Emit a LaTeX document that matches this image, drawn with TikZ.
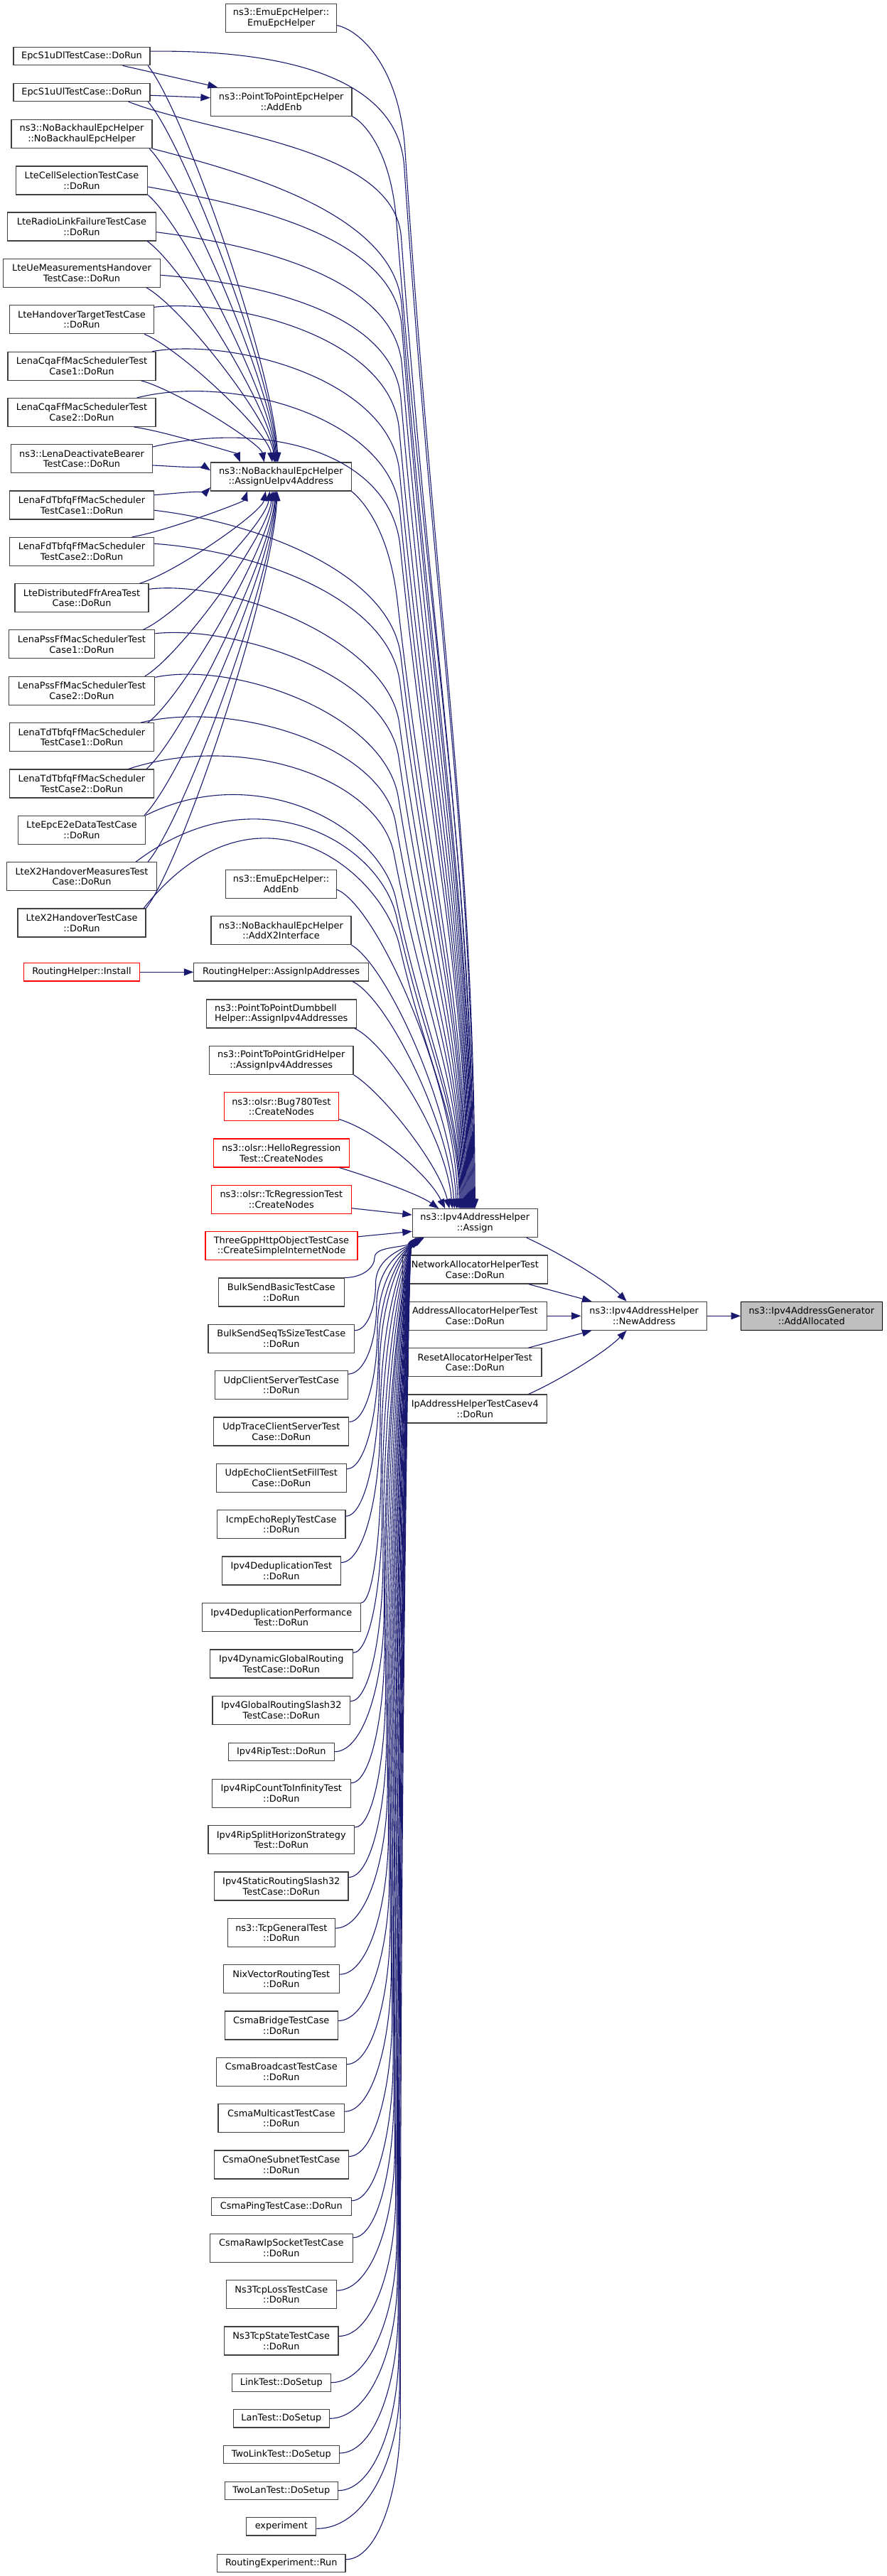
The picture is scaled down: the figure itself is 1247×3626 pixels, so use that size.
\documentclass[tikz,border=0pt]{standalone}
\usepackage{fontspec}
\setmainfont{DejaVu Sans}
\usetikzlibrary{arrows.meta,calc}
\definecolor{edgec}{HTML}{191970}
\definecolor{bord}{HTML}{404040}
\definecolor{selfill}{HTML}{BFBFBF}
\definecolor{redb}{HTML}{FF0000}
\newcommand\nfont{\fontsize{12.9bp}{14.7bp}\selectfont}
\tikzset{
  nbox/.style={draw=bord, line width=1.1bp, fill=white, minimum height=40bp, inner sep=0pt, align=center, font=\nfont},
  sbox/.style={nbox, minimum height=25.3bp},
  rbox/.style={draw=redb},
  calls/.style={draw=edgec, line width=1.1bp, -{Triangle[length=13.5bp,width=10bp]}},
}
% two-line node: [opts]{name}{x,y}{width}{text}
\newcommand\nd[5][]{\node[nbox,minimum width=#4bp,#1] (#2) at (#3) {#5};}
\newcommand\sn[5][]{\node[sbox,minimum width=#4bp,#1] (#2) at (#3) {#5};}
% knee edge: start, end, first control (x,y), knee (x,y), radius
\newcommand\kedge[5]{%
  \draw[calls] let \p1=(#1), \p2=(#2), \p3=(#4),
    \n1={100*veclen((\x2-\x3)/100,(\y2-\y3)/100)},
    \n2={(#5)/\n1},
    \n3={((#5)+0.45*(\n1-(#5)))/\n1},
    \n4={0.35*(\n1-(#5))}
  in (\p1) .. controls (#3) and (\p3) .. ({\x3+\n2*(\x2-\x3)},{\y3+\n2*(\y2-\y3)})
     .. controls ({\x3+\n3*(\x2-\x3)},{\y3+\n3*(\y2-\y3)}) and ({\x2-1.5pt},{\y2+\n4*1pt}) .. (\p2);%
}
% edges from the lower column up to the bottom left of Assign
\newcommand\lowedge[3]{%
  \draw[calls] let \p1=(#1), \p2=(#2), \p3=(#3,0),
    \n1={min(0.5*(\y2-\y1),200)},
    \n2={\y1+\n1},
    \n3={\n2+0.6*(\y2-\n2)}
  in (\p1) .. controls ({\x1+0.6*(\x3-\x1)},\y1) and (\x3,{\y1+0.5*\n1*1pt}) .. (\x3,{\n2*1pt})
     .. controls (\x3,{\n3*1pt}) and ({\x2-0.4*(\x2-\x3)},{\y2-15pt}) .. (\p2);%
}
% simple curved edge
\newcommand\uedge[2]{%
  \draw[calls] let \p1=(#1), \p2=(#2) in (\p1) .. controls ({\x1+0.29*(\x2-\x1)},{\y1+0.12*(\y2-\y1)}) and ({\x2-0.03*(\x2-\x1)},{\y2-0.23*(\y2-\y1)}) .. (\p2);%
}
\begin{document}
\begin{tikzpicture}[x=1bp,y=1bp]
\useasboundingbox (0,0) rectangle (1247,-3626);
\fill[white] (0,0) rectangle (1247,-3626);
% ---------- left column ----------
\sn{s1dl}{115,-79.2}{192}{EpcS1uDlTestCase::DoRun}
\sn{s1ul}{115,-129.9}{192}{EpcS1uUlTestCase::DoRun}
\nd{nbCtor}{115,-188.7}{198}{ns3::NoBackhaulEpcHelper\\::NoBackhaulEpcHelper}
\nd{cellSel}{115,-254}{185.5}{LteCellSelectionTestCase\\::DoRun}
\nd{rlf}{115,-319}{208.5}{LteRadioLinkFailureTestCase\\::DoRun}
\nd{ueMeas}{115,-384.3}{220.7}{LteUeMeasurementsHandover\\TestCase::DoRun}
\nd{hoTarget}{115,-449.8}{203}{LteHandoverTargetTestCase\\::DoRun}
\nd{cqa1}{115,-515.2}{208}{LenaCqaFfMacSchedulerTest\\Case1::DoRun}
\nd{cqa2}{115,-580.5}{208}{LenaCqaFfMacSchedulerTest\\Case2::DoRun}
\nd{deact}{115,-645.8}{198.5}{ns3::LenaDeactivateBearer\\TestCase::DoRun}
\nd{fd1}{115,-711}{203}{LenaFdTbfqFfMacScheduler\\TestCase1::DoRun}
\nd{fd2}{115,-776.3}{203}{LenaFdTbfqFfMacScheduler\\TestCase2::DoRun}
\nd{ffr}{115,-841.7}{188}{LteDistributedFfrAreaTest\\Case::DoRun}
\nd{pss1}{115,-906.9}{205.7}{LenaPssFfMacSchedulerTest\\Case1::DoRun}
\nd{pss2}{115,-972.3}{205.7}{LenaPssFfMacSchedulerTest\\Case2::DoRun}
\nd{td1}{115,-1037.7}{203}{LenaTdTbfqFfMacScheduler\\TestCase1::DoRun}
\nd{td2}{115,-1103}{203}{LenaTdTbfqFfMacScheduler\\TestCase2::DoRun}
\nd{e2e}{115,-1168.3}{178.7}{LteEpcE2eDataTestCase\\::DoRun}
\nd{x2meas}{115,-1233.7}{210.3}{LteX2HandoverMeasuresTest\\Case::DoRun}
\nd{x2ho}{115,-1299}{180}{LteX2HandoverTestCase\\::DoRun}
\sn[rbox]{rhInstall}{115,-1368.3}{163}{RoutingHelper::Install}
% ---------- middle column ----------
\nd{emuHelper}{395.6,-25.7}{156}{ns3::EmuEpcHelper::\\EmuEpcHelper}
\nd{p2pAddEnb}{395.7,-143.2}{198.5}{ns3::PointToPointEpcHelper\\::AddEnb}
\nd{uev4}{395.3,-671}{197.5}{ns3::NoBackhaulEpcHelper\\::AssignUeIpv4Address}
\nd{emuAddEnb}{395.6,-1244.3}{156}{ns3::EmuEpcHelper::\\AddEnb}
\nd{x2if}{395.5,-1309.7}{197}{ns3::NoBackhaulEpcHelper\\::AddX2Interface}
\sn{rhAssign}{395.6,-1368.3}{245.6}{RoutingHelper::AssignIpAddresses}
\nd[align=left]{dumbbell}{395.8,-1427}{211.2}{ns3::PointToPointDumbbell\\Helper::AssignIpv4Addresses}
\nd{grid}{395.8,-1492.3}{202.4}{ns3::PointToPointGridHelper\\::AssignIpv4Addresses}
\nd[rbox]{bug780}{395.8,-1557.7}{160.5}{ns3::olsr::Bug780Test\\::CreateNodes}
\nd[rbox]{hello}{395.8,-1623}{190.5}{ns3::olsr::HelloRegression\\Test::CreateNodes}
\nd[rbox]{tcreg}{395.8,-1688.3}{197}{ns3::olsr::TcRegressionTest\\::CreateNodes}
\nd[rbox]{threegpp}{396,-1753.8}{214}{ThreeGppHttpObjectTestCase\\::CreateSimpleInternetNode}
\nd{bulkBasic}{395.8,-1819}{176.6}{BulkSendBasicTestCase\\::DoRun}
\nd{bulkSeq}{395.8,-1884.3}{205.7}{BulkSendSeqTsSizeTestCase\\::DoRun}
\nd{udpCS}{395.8,-1949.7}{187}{UdpClientServerTestCase\\::DoRun}
\nd{udpTrace}{395.8,-2015}{190}{UdpTraceClientServerTest\\Case::DoRun}
\nd{udpEcho}{395.8,-2080.3}{183}{UdpEchoClientSetFillTest\\Case::DoRun}
\nd{icmp}{395.8,-2145.7}{180.3}{IcmpEchoReplyTestCase\\::DoRun}
\nd{dedup}{395.8,-2211}{167}{Ipv4DeduplicationTest\\::DoRun}
\nd{dedupPerf}{395.8,-2276.7}{223}{Ipv4DeduplicationPerformance\\Test::DoRun}
\nd{dynGlobal}{395.8,-2342}{200.7}{Ipv4DynamicGlobalRouting\\TestCase::DoRun}
\nd{global32}{395.8,-2407.3}{193.7}{Ipv4GlobalRoutingSlash32\\TestCase::DoRun}
\sn{rip}{395.8,-2465.7}{148.7}{Ipv4RipTest::DoRun}
\nd{ripCount}{395.8,-2524.3}{195}{Ipv4RipCountToInfinityTest\\::DoRun}
\nd{ripSplit}{395.8,-2589.7}{205.7}{Ipv4RipSplitHorizonStrategy\\Test::DoRun}
\nd{static32}{395.8,-2655}{188.3}{Ipv4StaticRoutingSlash32\\TestCase::DoRun}
\nd{tcpGen}{395.8,-2720.7}{151}{ns3::TcpGeneralTest\\::DoRun}
\nd{nix}{395.8,-2785.7}{163}{NixVectorRoutingTest\\::DoRun}
\nd{csmaBridge}{395.8,-2851}{159}{CsmaBridgeTestCase\\::DoRun}
\nd{csmaBcast}{395.8,-2916.3}{183}{CsmaBroadcastTestCase\\::DoRun}
\nd{csmaMcast}{395.8,-2981.7}{177.7}{CsmaMulticastTestCase\\::DoRun}
\nd{csmaOne}{395.8,-3047}{188.7}{CsmaOneSubnetTestCase\\::DoRun}
\sn{csmaPing}{395.8,-3105.7}{196.6}{CsmaPingTestCase::DoRun}
\nd{csmaRaw}{395.8,-3164.3}{200.7}{CsmaRawIpSocketTestCase\\::DoRun}
\nd{tcpLoss}{395.8,-3229.7}{154.7}{Ns3TcpLossTestCase\\::DoRun}
\nd{tcpState}{395.8,-3295}{160.3}{Ns3TcpStateTestCase\\::DoRun}
\sn{linkTest}{395.8,-3353.7}{139}{LinkTest::DoSetup}
\sn{lanTest}{395.8,-3404.3}{134.7}{LanTest::DoSetup}
\sn{twoLink}{395.8,-3455}{163}{TwoLinkTest::DoSetup}
\sn{twoLan}{395.8,-3505.7}{159}{TwoLanTest::DoSetup}
\sn{experiment}{395.8,-3556.3}{98}{experiment}
\sn{routingExp}{395.8,-3607.7}{180.3}{RoutingExperiment::Run}
% ---------- right part ----------
\nd{assign}{668.3,-1721.7}{176}{ns3::Ipv4AddressHelper\\::Assign}
\nd{netAlloc}{668.3,-1787}{204}{NetworkAllocatorHelperTest\\Case::DoRun}
\nd{addrAlloc}{668.3,-1852.3}{202}{AddressAllocatorHelperTest\\Case::DoRun}
\nd{resetAlloc}{668.3,-1917.7}{187.3}{ResetAllocatorHelperTest\\Case::DoRun}
\nd{ipHelperV4}{668.3,-1983}{202}{IpAddressHelperTestCasev4\\::DoRun}
\nd{newAddr}{906.2,-1852.3}{176.3}{ns3::Ipv4AddressHelper\\::NewAddress}
\nd[fill=selfill,draw=black]{addAlloc}{1141.8,-1852.3}{198.5}{ns3::Ipv4AddressGenerator\\::AddAllocated}
% ---------- short edges ----------
\draw[calls] ([xshift=-39bp]s1dl.south east) -- ([xshift=10bp]p2pAddEnb.north west);
\draw[calls] ([yshift=-4.3bp]s1ul.east) -- ([yshift=5.5bp]p2pAddEnb.west);
\draw[calls] (rhInstall.east) -- (rhAssign.west);
\draw[calls] ([xshift=-16bp]assign.south east) .. controls (780,-1760) and (850,-1800) .. ([xshift=-24.6bp]newAddr.north);
\draw[calls] ([xshift=-27.3bp]netAlloc.south east) -- ([xshift=15bp]newAddr.north west);
\draw[calls] (addrAlloc.east) -- (newAddr.west);
\draw[calls] ([xshift=-19bp]resetAlloc.north east) -- ([xshift=15bp]newAddr.south west);
\draw[calls] ([xshift=-26.4bp]ipHelperV4.north east) .. controls (783,-1945) and (850,-1905) .. ([xshift=-24.6bp]newAddr.south);
\draw[calls] (newAddr.east) -- (addAlloc.west);
% ---------- edges to AssignUeIpv4Address ----------
\uedge{[xshift=-3.4bp]s1dl.south east}{[xshift=-4.3bp]uev4.north}
\uedge{[xshift=-3.4bp]s1ul.south east}{[xshift=-5.3bp]uev4.north}
\uedge{[xshift=-4.4bp]nbCtor.south east}{[xshift=-6.3bp]uev4.north}
\uedge{cellSel.south east}{[xshift=-7.3bp]uev4.north}
\uedge{[xshift=-12.6bp]rlf.south east}{[xshift=-8.3bp]uev4.north}
\uedge{[xshift=-20bp]ueMeas.south east}{[xshift=-9.3bp]uev4.north}
\uedge{[xshift=-14bp]hoTarget.south east}{[xshift=-12.3bp]uev4.north}
\uedge{[xshift=-21bp]cqa1.south east}{[xshift=-23.6bp]uev4.north}
\uedge{[xshift=-31bp]cqa2.south east}{[xshift=-57.3bp]uev4.north}
\uedge{[yshift=-9.2bp]deact.east}{[yshift=8.7bp]uev4.west}
\uedge{[yshift=14.3bp]fd1.east}{[yshift=-15bp]uev4.west}
\uedge{[xshift=-31bp]fd2.north east}{[xshift=-47.3bp]uev4.south}
\uedge{[xshift=-13bp]ffr.north east}{[xshift=-21.6bp]uev4.south}
\uedge{[xshift=-17bp]pss1.north east}{[xshift=-15.7bp]uev4.south}
\uedge{[xshift=-14.4bp]pss2.north east}{[xshift=-12.3bp]uev4.south}
\uedge{[xshift=-9bp]td1.north east}{[xshift=-10.3bp]uev4.south}
\uedge{[xshift=-11bp]td2.north east}{[xshift=-8.3bp]uev4.south}
\uedge{[xshift=-2bp]e2e.north east}{[xshift=-7.3bp]uev4.south}
\uedge{[xshift=-12.6bp]x2meas.north east}{[xshift=-6.3bp]uev4.south}
\uedge{x2ho.north east}{[xshift=-5.3bp]uev4.south}
% ---------- long edges to Assign (top) ----------
\kedge{[yshift=-10bp]emuHelper.east}{assign.north}{505,-42}{562,-92}{120}
\kedge{[yshift=7bp]s1dl.east}{[xshift=-1bp]assign.north}{390,-70}{560,-105}{130}
\kedge{p2pAddEnb.south east}{[xshift=-2bp]assign.north}{512,-172}{550,-212}{100}
\kedge{[xshift=-31bp]s1ul.south east}{[xshift=-3bp]assign.north}{300,-190}{555,-205}{130}
\kedge{nbCtor.south east}{[xshift=-4bp]assign.north}{340,-242}{555,-300}{130}
\kedge{[yshift=-9bp]cellSel.east}{[xshift=-5bp]assign.north}{340,-287}{555,-330}{130}
\kedge{[yshift=-7.7bp]rlf.east}{[xshift=-6bp]assign.north}{340,-342}{555,-385}{130}
\kedge{[yshift=-3bp]ueMeas.east}{[xshift=-7bp]assign.north}{340,-396}{553,-432}{130}
\kedge{[yshift=17.5bp]hoTarget.east}{[xshift=-8bp]assign.north}{330,-420}{550,-475}{130}
\kedge{[xshift=-5.5bp]cqa1.north east}{[xshift=-9bp]assign.north}{330,-475}{550,-535}{130}
\kedge{[xshift=-27bp]cqa2.north east}{[xshift=-10bp]assign.north}{330,-525}{550,-590}{130}
\kedge{[yshift=16.8bp]deact.east}{[xshift=-11bp]assign.north}{380,-590}{550,-640}{130}
\kedge{uev4.south east}{[xshift=-12bp]assign.north}{512,-706}{548,-748}{100}
\kedge{[yshift=-7.3bp]fd1.east}{[xshift=-13bp]assign.north}{360,-735}{550,-805}{120}
\kedge{[yshift=11bp]fd2.east}{[xshift=-14bp]assign.north}{360,-775}{548,-842}{120}
\kedge{[yshift=12.4bp]ffr.east}{[xshift=-15bp]assign.north}{320,-815}{546,-900}{120}
\kedge{[yshift=15.2bp]pss1.east}{[xshift=-16bp]assign.north}{330,-880}{544,-948}{120}
\kedge{[yshift=19bp]pss2.east}{[xshift=-17bp]assign.north}{330,-930}{542,-1005}{120}
\kedge{[xshift=-19bp]td1.north east}{[xshift=-18bp]assign.north}{330,-985}{538,-1050}{110}
\kedge{[xshift=-36.5bp]td2.north east}{[xshift=-19bp]assign.north}{340,-1030}{534,-1095}{110}
\kedge{e2e.north east}{[xshift=-20bp]assign.north}{360,-1070}{535,-1160}{110}
\kedge{[xshift=-29.6bp]x2meas.north east}{[xshift=-21bp]assign.north}{360,-1085}{535,-1185}{110}
\kedge{[xshift=-3.4bp]x2ho.north east}{[xshift=-22bp]assign.north}{360,-1080}{538,-1225}{110}
% ---------- middle helpers to Assign ----------
\draw[calls] ([yshift=-8bp]emuAddEnb.east) .. controls (530,-1275) and (640,-1520) .. ([xshift=-24bp]assign.north);
\draw[calls] (x2if.south east) .. controls (545,-1360) and (636,-1560) .. ([xshift=-26bp]assign.north);
\draw[calls] ([xshift=-23bp]rhAssign.south east) .. controls (545,-1405) and (632,-1580) .. ([xshift=-29bp]assign.north);
\draw[calls] ([xshift=-3bp]dumbbell.south east) .. controls (545,-1470) and (628,-1600) .. ([xshift=-32bp]assign.north);
\draw[calls] (grid.south east) .. controls (540,-1540) and (618,-1640) .. ([xshift=-36bp]assign.north);
\draw[calls] ([yshift=3bp]bug780.south east) .. controls (530,-1592) and (602,-1652) .. ([xshift=-42bp]assign.north);
\draw[calls] ([xshift=-14bp]hello.south east) .. controls (540,-1663) and (592,-1683) .. ([xshift=-51bp]assign.north);
\draw[calls] ([yshift=-12.4bp]tcreg.east) -- ([yshift=11.7bp]assign.west);
\draw[calls] ([yshift=13bp]threegpp.east) -- ([yshift=-11.6bp]assign.west);
% ---------- lower column to Assign (bottom left) ----------
\lowedge{bulkBasic.north east}{[xshift=17bp]assign.south west}{527}
\lowedge{[yshift=-9bp]bulkSeq.north east}{[xshift=16.6bp]assign.south west}{528.5}
\lowedge{[yshift=-5bp]udpCS.north east}{[xshift=16.2bp]assign.south west}{529.8}
\lowedge{[yshift=-7bp]udpTrace.north east}{[xshift=15.8bp]assign.south west}{531}
\lowedge{[yshift=-8bp]udpEcho.north east}{[xshift=15.3bp]assign.south west}{532.4}
\lowedge{[yshift=-9bp]icmp.north east}{[xshift=14.9bp]assign.south west}{533.7}
\lowedge{[yshift=-9bp]dedup.north east}{[xshift=14.5bp]assign.south west}{535}
\lowedge{dedupPerf.north east}{[xshift=14.1bp]assign.south west}{536.3}
\lowedge{[yshift=-5bp]dynGlobal.north east}{[xshift=13.7bp]assign.south west}{537.6}
\lowedge{[yshift=-8bp]global32.north east}{[xshift=13.3bp]assign.south west}{538.9}
\lowedge{rip.east}{[xshift=12.9bp]assign.south west}{540.3}
\lowedge{[yshift=-6bp]ripCount.north east}{[xshift=12.4bp]assign.south west}{541.3}
\lowedge{[yshift=-3bp]ripSplit.north east}{[xshift=12bp]assign.south west}{542.6}
\lowedge{[yshift=-8bp]static32.north east}{[xshift=11.6bp]assign.south west}{543.9}
\lowedge{[yshift=-14bp]tcpGen.north east}{[xshift=11.2bp]assign.south west}{545.2}
\lowedge{[yshift=-14bp]nix.north east}{[xshift=10.8bp]assign.south west}{546.5}
\lowedge{[yshift=-14bp]csmaBridge.north east}{[xshift=10.4bp]assign.south west}{547.8}
\lowedge{[yshift=-10bp]csmaBcast.north east}{[xshift=10bp]assign.south west}{549.1}
\lowedge{[yshift=-11bp]csmaMcast.north east}{[xshift=9.5bp]assign.south west}{550.4}
\lowedge{[yshift=-9bp]csmaOne.north east}{[xshift=9.1bp]assign.south west}{551.7}
\lowedge{[yshift=8bp]csmaPing.east}{[xshift=8.7bp]assign.south west}{553.1}
\lowedge{[yshift=-6bp]csmaRaw.north east}{[xshift=8.3bp]assign.south west}{554.1}
\lowedge{[yshift=-15bp]tcpLoss.north east}{[xshift=7.9bp]assign.south west}{555.4}
\lowedge{[yshift=-14bp]tcpState.north east}{[xshift=7.5bp]assign.south west}{556.7}
\lowedge{linkTest.east}{[xshift=7.1bp]assign.south west}{558.1}
\lowedge{lanTest.east}{[xshift=6.6bp]assign.south west}{559.1}
\lowedge{[yshift=2bp]twoLink.east}{[xshift=6.2bp]assign.south west}{560.1}
\lowedge{twoLan.east}{[xshift=5.8bp]assign.south west}{561.1}
\lowedge{[yshift=-3bp]experiment.east}{[xshift=5.4bp]assign.south west}{562.1}
\lowedge{[yshift=5bp]routingExp.east}{[xshift=5bp]assign.south west}{563.2}
\end{tikzpicture}
\end{document}
